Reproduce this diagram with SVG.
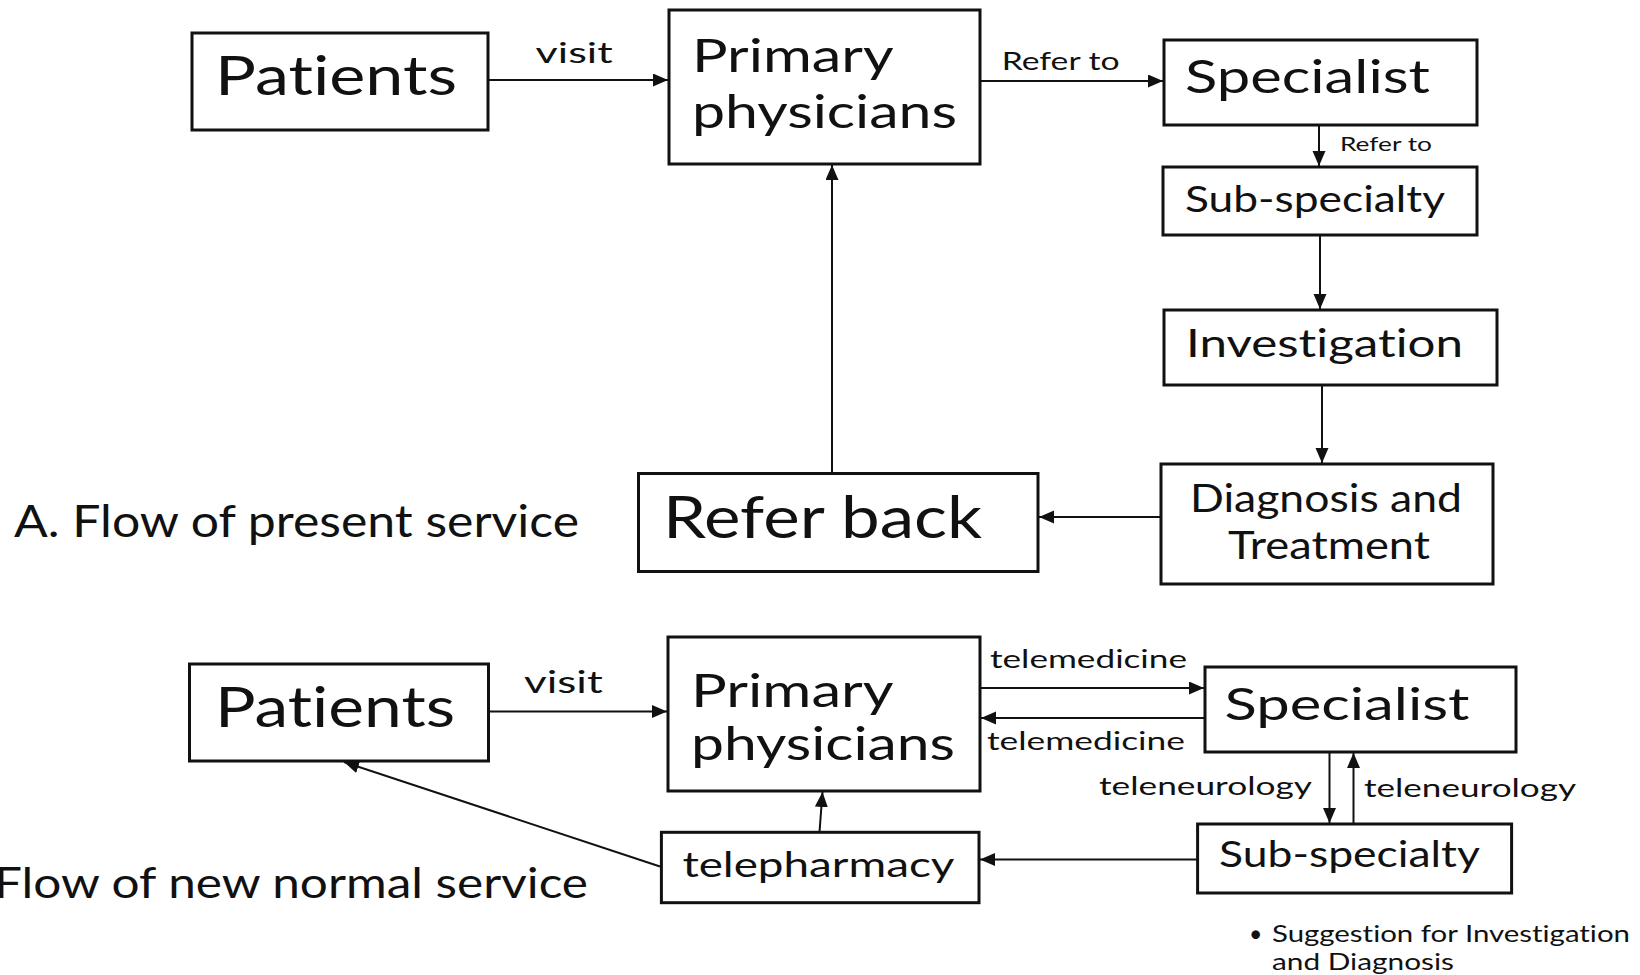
<svg xmlns="http://www.w3.org/2000/svg" width="1640" height="975" viewBox="0 0 1640 975">
<defs>
<style>
.box{fill:#fff;stroke:#111;stroke-width:3}
.t{font-family:Lato,"Open Sans","Liberation Sans",sans-serif;fill:#111;font-variant-ligatures:none;font-feature-settings:"liga" 0,"clig" 0}
.c{stroke:#111;stroke-width:2;fill:none;marker-end:url(#ah)}
</style>
<marker id="ah" markerUnits="userSpaceOnUse" markerWidth="16" markerHeight="14" refX="15" refY="6.5" orient="auto">
<path d="M0,0 L15,6.5 L0,13 Z" fill="#111"/>
</marker>
</defs>
<rect width="1640" height="975" fill="#fff"/>

<g id="connectors">
<line class="c" x1="489" y1="80" x2="668" y2="80"/>
<line class="c" x1="980" y1="81" x2="1163" y2="81"/>
<line class="c" x1="1319" y1="125" x2="1319" y2="166"/>
<line class="c" x1="1320" y1="235" x2="1320" y2="309"/>
<line class="c" x1="1322" y1="385" x2="1322" y2="463"/>
<line class="c" x1="1161" y1="517" x2="1039" y2="517"/>
<line class="c" x1="832" y1="473" x2="832" y2="165"/>

<line class="c" x1="488" y1="711.5" x2="667" y2="711.5"/>
<line class="c" x1="980" y1="688" x2="1204" y2="688"/>
<line class="c" x1="1205" y1="718" x2="981" y2="718"/>
<line class="c" x1="1329.5" y1="752" x2="1329.5" y2="823"/>
<line class="c" x1="1353.5" y1="824" x2="1353.5" y2="753"/>
<line class="c" x1="1197" y1="859.5" x2="980" y2="859.5"/>
<line class="c" x1="819.5" y1="832" x2="822.5" y2="792"/>
<line class="c" x1="660" y1="866.5" x2="344" y2="762"/>
</g>

<g id="label-visit-a"><text class="t" x="535.6" y="63" font-size="29" textLength="77" lengthAdjust="spacingAndGlyphs">visit</text></g>
<g id="label-referto-a"><text class="t" x="1001.7" y="70" font-size="25" textLength="118" lengthAdjust="spacingAndGlyphs">Refer to</text></g>
<g id="label-referto-b"><text class="t" x="1340" y="150.7" font-size="19" textLength="92" lengthAdjust="spacingAndGlyphs">Refer to</text></g>

<g id="patients-a">
<rect class="box" x="192" y="33" width="296" height="97"/>
<text class="t" x="215" y="95" font-size="54" textLength="242" lengthAdjust="spacingAndGlyphs">Patients</text>
</g>
<g id="primary-a">
<rect class="box" x="669" y="10" width="311" height="154"/>
<text class="t" x="692" y="71.7" font-size="47" textLength="201.6" lengthAdjust="spacingAndGlyphs">Primary</text>
<text class="t" x="692" y="128.3" font-size="47" textLength="265" lengthAdjust="spacingAndGlyphs">physicians</text>
</g>
<g id="specialist-a">
<rect class="box" x="1164" y="40" width="313" height="85"/>
<text class="t" x="1185" y="93" font-size="46" textLength="245" lengthAdjust="spacingAndGlyphs">Specialist</text>
</g>
<g id="subspecialty-a">
<rect class="box" x="1163" y="167" width="314" height="68"/>
<text class="t" x="1185" y="211.7" font-size="37" textLength="260" lengthAdjust="spacingAndGlyphs">Sub-specialty</text>
</g>
<g id="investigation">
<rect class="box" x="1164" y="310" width="333" height="75"/>
<text class="t" x="1186" y="356.7" font-size="39" textLength="277" lengthAdjust="spacingAndGlyphs">Investigation</text>
</g>
<g id="diagnosis">
<rect class="box" x="1161" y="464" width="332" height="120"/>
<text class="t" x="1190" y="511.7" font-size="39" textLength="272" lengthAdjust="spacingAndGlyphs">Diagnosis and</text>
<text class="t" x="1228" y="559" font-size="39" textLength="202" lengthAdjust="spacingAndGlyphs">Treatment</text>
</g>
<g id="referback">
<rect class="box" x="638.5" y="473.5" width="399.5" height="98"/>
<text class="t" x="663" y="538.3" font-size="58" textLength="319" lengthAdjust="spacingAndGlyphs">Refer back</text>
</g>
<g id="title-a"><text class="t" x="14" y="536.7" font-size="44" textLength="565" lengthAdjust="spacingAndGlyphs">A. Flow of present service</text></g>

<g id="label-visit-b"><text class="t" x="524" y="692.7" font-size="31" textLength="78.7" lengthAdjust="spacingAndGlyphs">visit</text></g>
<g id="label-telemed-1"><text class="t" x="990" y="668.3" font-size="25" textLength="197" lengthAdjust="spacingAndGlyphs">telemedicine</text></g>
<g id="label-telemed-2"><text class="t" x="987" y="750" font-size="25" textLength="198" lengthAdjust="spacingAndGlyphs">telemedicine</text></g>
<g id="label-teleneuro-1"><text class="t" x="1099" y="795" font-size="25" textLength="213" lengthAdjust="spacingAndGlyphs">teleneurology</text></g>
<g id="label-teleneuro-2"><text class="t" x="1364" y="796.7" font-size="25" textLength="212" lengthAdjust="spacingAndGlyphs">teleneurology</text></g>

<g id="patients-b">
<rect class="box" x="189.5" y="664" width="299" height="97"/>
<text class="t" x="215" y="727.3" font-size="56" textLength="240" lengthAdjust="spacingAndGlyphs">Patients</text>
</g>
<g id="primary-b">
<rect class="box" x="668" y="637" width="312" height="154"/>
<text class="t" x="691" y="707.3" font-size="47" textLength="202.6" lengthAdjust="spacingAndGlyphs">Primary</text>
<text class="t" x="691" y="760" font-size="47" textLength="264" lengthAdjust="spacingAndGlyphs">physicians</text>
</g>
<g id="specialist-b">
<rect class="box" x="1205" y="667" width="311" height="85"/>
<text class="t" x="1224.5" y="720" font-size="44" textLength="245" lengthAdjust="spacingAndGlyphs">Specialist</text>
</g>
<g id="subspecialty-b">
<rect class="box" x="1197.6" y="824" width="314" height="69"/>
<text class="t" x="1219" y="866.7" font-size="36" textLength="261" lengthAdjust="spacingAndGlyphs">Sub-specialty</text>
</g>
<g id="telepharmacy">
<rect class="box" x="661.4" y="832.3" width="317.6" height="70.4"/>
<text class="t" x="682.4" y="876.7" font-size="35" textLength="272" lengthAdjust="spacingAndGlyphs">telepharmacy</text>
</g>
<g id="title-b"><text class="t" x="-6" y="898.3" font-size="42" textLength="594" lengthAdjust="spacingAndGlyphs">Flow of new normal service</text></g>
<g id="note">
<text class="t" x="1249" y="941.7" font-size="23">•</text>
<text class="t" x="1272" y="941.7" font-size="23" textLength="358" lengthAdjust="spacingAndGlyphs">Suggestion for Investigation</text>
<text class="t" x="1272" y="970" font-size="23" textLength="182" lengthAdjust="spacingAndGlyphs">and Diagnosis</text>
</g>
</svg>
